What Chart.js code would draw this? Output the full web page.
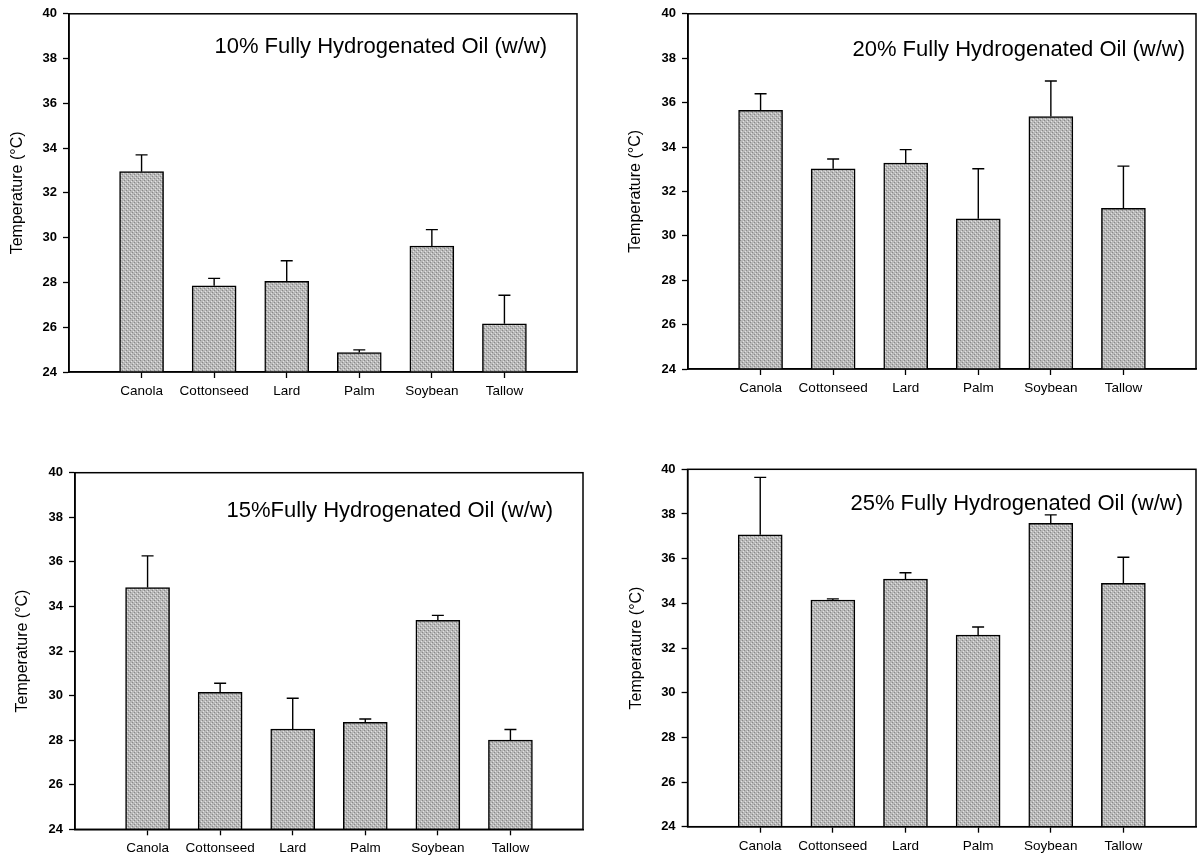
<!DOCTYPE html>
<html>
<head>
<meta charset="utf-8">
<script src="https://cdn.jsdelivr.net/npm/chart.js@4.4.1/dist/chart.umd.min.js"></script>
<style>
html,body{margin:0;padding:0;background:#fff;width:1197px;height:861px;overflow:hidden}
canvas{position:absolute}
</style>
</head>
<body>
<canvas id="p10" width="598" height="430" style="left:0px;top:0px"></canvas>
<canvas id="p20" width="604" height="430" style="left:600px;top:0px"></canvas>
<canvas id="p15" width="598" height="431" style="left:0px;top:430px"></canvas>
<canvas id="p25" width="604" height="431" style="left:600px;top:430px"></canvas>
<script>
// ---- data ----
const categories = ['Canola', 'Cottonseed', 'Lard', 'Palm', 'Soybean', 'Tallow'];
const yTickValues = [24, 26, 28, 30, 32, 34, 36, 38, 40];

const title10 = '10% Fully Hydrogenated Oil (w/w)';
const values10 = [32.95, 27.85, 28.05, 24.87, 29.63, 26.15];
const errors10 = [0.75, 0.33, 0.92, 0.12, 0.73, 1.28];

const title20 = '20% Fully Hydrogenated Oil (w/w)';
const values20 = [35.65, 33.02, 33.28, 30.77, 35.37, 31.24];
const errors20 = [0.75, 0.44, 0.60, 2.25, 1.60, 1.90];

const title15 = '15%Fully Hydrogenated Oil (w/w)';
const values15 = [34.85, 30.15, 28.50, 28.80, 33.38, 28.00];
const errors15 = [1.42, 0.40, 1.38, 0.15, 0.22, 0.48];

const title25 = '25% Fully Hydrogenated Oil (w/w)';
const values25 = [37.07, 34.15, 35.09, 32.58, 37.58, 34.90];
const errors25 = [2.57, 0.05, 0.28, 0.36, 0.38, 1.16];

const yAxisTitle = 'Temperature (°C)';

// ---- styling ----
const FONT = '"Liberation Sans", Arial, Helvetica, sans-serif';
Chart.defaults.font.family = FONT;
Chart.defaults.color = '#000';

function makePattern() {
  const c = document.createElement('canvas');
  c.width = 4; c.height = 4;
  const g = c.getContext('2d');
  g.fillStyle = '#b8b8b8'; g.fillRect(0, 0, 4, 4);
  g.fillStyle = '#888888'; g.fillRect(0, 0, 1, 1); g.fillRect(2, 2, 1, 1);
  g.fillStyle = '#e2e2e2'; g.fillRect(1, 3, 1, 1); g.fillRect(3, 1, 1, 1);
  return g.createPattern(c, 'repeat');
}
const barFill = makePattern();

const panelPlugin = {
  id: 'panelExtras',
  afterDatasetsDraw(chart, args, opts) {
    const ctx = chart.ctx;
    const ys = chart.scales.y;
    const ds = chart.data.datasets[0];
    const meta = chart.getDatasetMeta(0);
    ctx.save();
    ctx.strokeStyle = '#000';
    ctx.lineWidth = 1.4;
    meta.data.forEach((bar, i) => {
      const v = ds.data[i];
      const e = ds.errors[i];
      if (v == null || e == null) return;
      const yTop = ys.getPixelForValue(v + e);
      const half = opts.capWidth / 2;
      ctx.beginPath();
      ctx.moveTo(bar.x, bar.y);
      ctx.lineTo(bar.x, yTop);
      ctx.moveTo(bar.x - half, yTop);
      ctx.lineTo(bar.x + half, yTop);
      ctx.stroke();
    });
    ctx.restore();
  },
  afterDraw(chart, args, opts) {
    const ctx = chart.ctx;
    const a = chart.chartArea;
    ctx.save();
    ctx.strokeStyle = '#000';
    ctx.lineWidth = 1.5;
    ctx.strokeRect(a.left, a.top, a.right - a.left, a.bottom - a.top);
    ctx.fillStyle = '#000';
    ctx.font = '22px ' + FONT;
    ctx.textAlign = 'right';
    ctx.textBaseline = 'alphabetic';
    ctx.fillText(opts.title, a.right - opts.titleGap, a.top + opts.titleBase);
    ctx.restore();
  }
};

function pad(arr) { return [null, ...arr, null]; }

function makeChart(id, title, values, errors, L) {
  const labels = ['', ...categories, ''];
  return new Chart(document.getElementById(id), {
    type: 'bar',
    data: {
      labels: labels,
      datasets: [{
        data: pad(values),
        errors: pad(errors),
        backgroundColor: barFill,
        borderColor: '#000',
        borderWidth: 1.5,
        borderSkipped: 'bottom',
        barThickness: 44
      }]
    },
    options: {
      responsive: false,
      animation: false,
      events: [],
      layout: { padding: { top: L.padTop, right: L.padRight, left: 0, bottom: 0 } },
      plugins: {
        legend: { display: false },
        tooltip: { enabled: false },
        title: { display: false },
        panelExtras: { title: title, titleGap: L.titleGap, titleBase: L.titleBase, capWidth: 12 }
      },
      scales: {
        x: {
          type: 'category',
          offset: false,
          grid: {
            offset: false,
            drawOnChartArea: false,
            drawTicks: true,
            tickLength: 6,
            tickWidth: 1.3,
            tickColor: (c) => (c.index === 0 || c.index === labels.length - 1) ? 'rgba(0,0,0,0)' : '#000'
          },
          border: { display: true, color: '#000', width: 1.5 },
          ticks: {
            autoSkip: false,
            maxRotation: 0,
            minRotation: 0,
            padding: 5,
            color: '#000',
            font: { size: 13.5, family: FONT }
          },
          afterFit: (s) => { s.height = L.xHeight; }
        },
        y: {
          min: 24,
          max: 40,
          grid: {
            drawOnChartArea: false,
            drawTicks: true,
            tickLength: 6,
            tickWidth: 1.3,
            tickColor: '#000'
          },
          border: { display: true, color: '#000', width: 1.5 },
          afterBuildTicks: (s) => { s.ticks = yTickValues.map(v => ({ value: v })); },
          ticks: {
            padding: 6,
            color: '#000',
            font: { size: 13, weight: 'bold', family: FONT }
          },
          title: {
            display: true,
            text: yAxisTitle,
            color: '#000',
            font: { size: 16, family: FONT },
            padding: { top: L.yTitlePad, bottom: 0 }
          },
          afterFit: (s) => { s.width = L.yWidth; }
        }
      }
    },
    plugins: [panelPlugin]
  });
}

makeChart('p10', title10, values10, errors10,
  { padTop: 13, padRight: 21, yWidth: 69, xHeight: 58, yTitlePad: 8.4, titleGap: 30, titleBase: 38.7 });
makeChart('p20', title20, values20, errors20,
  { padTop: 12, padRight: 8, yWidth: 88, xHeight: 61, yTitlePad: 26, titleGap: 11, titleBase: 42 });
makeChart('p15', title15, values15, errors15,
  { padTop: 42.7, padRight: 15, yWidth: 75, xHeight: 31.7, yTitlePad: 13, titleGap: 30, titleBase: 44.6 });
makeChart('p25', title25, values25, errors25,
  { padTop: 39.3, padRight: 8, yWidth: 87.6, xHeight: 34.3, yTitlePad: 26.6, titleGap: 13, titleBase: 41 });
</script>
</body>
</html>
